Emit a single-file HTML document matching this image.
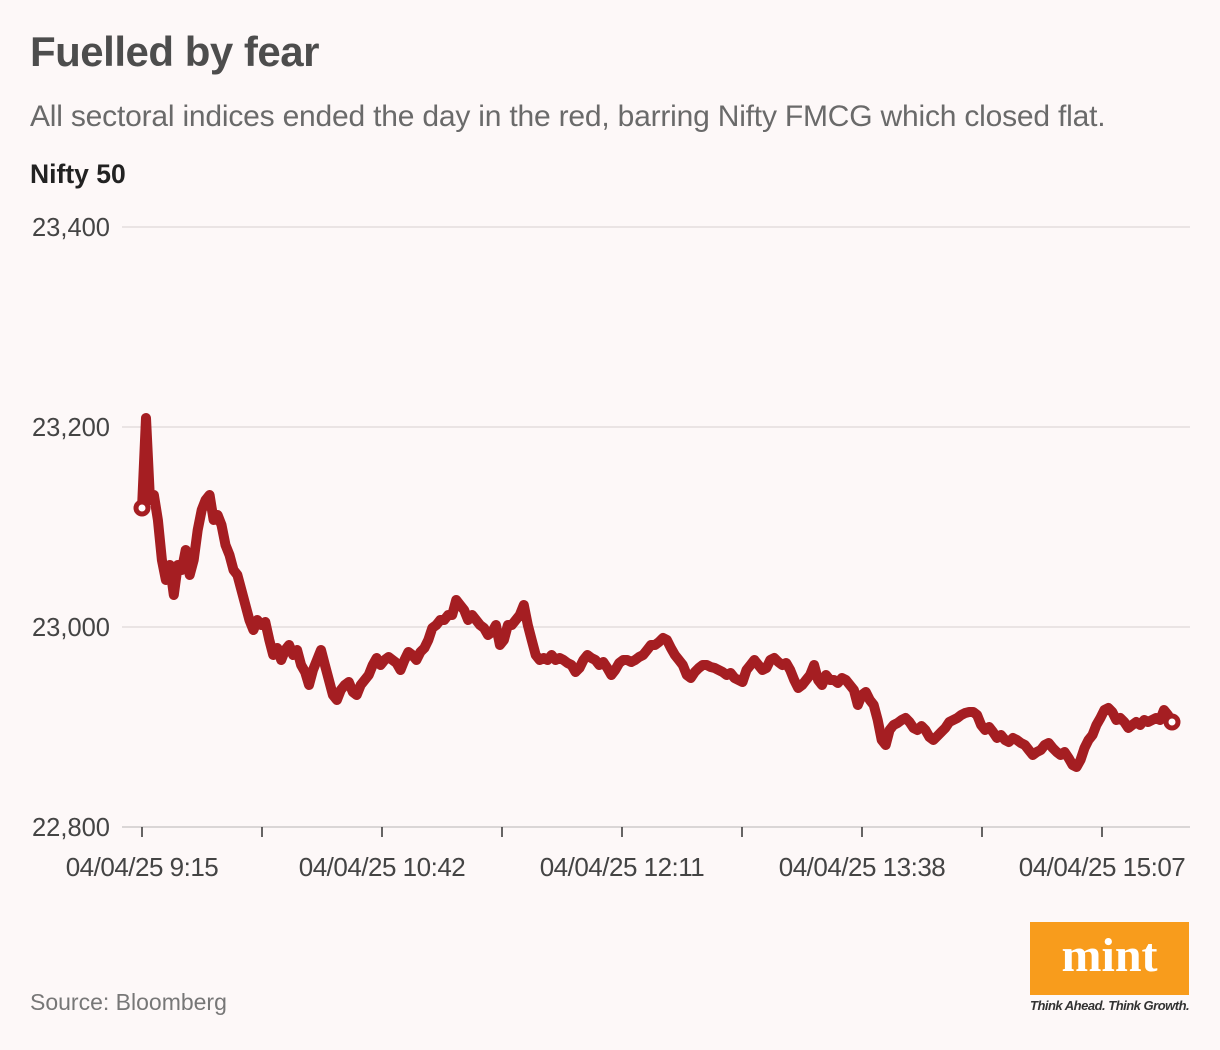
<!DOCTYPE html>
<html><head><meta charset="utf-8">
<style>
body{margin:0;background:#fdf8f8;font-family:"Liberation Sans",sans-serif;}
#wrap{position:relative;width:1220px;height:1050px;overflow:hidden;background:#fdf8f8;}
.t{position:absolute;white-space:nowrap;}
</style></head><body>
<div id="wrap">
<div class="t" style="left:30px;top:28px;font-size:42px;font-weight:bold;color:#4d4d4d;letter-spacing:-0.5px;">Fuelled by fear</div>
<div class="t" style="left:30px;top:100px;font-size:30px;color:#6a6a6a;letter-spacing:-0.2px;">All sectoral indices ended the day in the red, barring Nifty FMCG which closed flat.</div>
<div class="t" style="left:30px;top:159px;font-size:26.5px;font-weight:bold;color:#222;">Nifty 50</div>
<svg id="chart" width="1220" height="900" style="position:absolute;left:0;top:0;"></svg>
<div class="t" style="left:30px;top:989px;font-size:23px;color:#777;">Source: Bloomberg</div>
<div style="position:absolute;left:1030px;top:922px;width:159px;height:73px;background:#f89c1c;color:#fff;font-family:'Liberation Serif',serif;font-weight:bold;font-size:48px;text-align:center;line-height:68px;">mint</div>
<div class="t" style="left:1030px;top:998px;font-size:13px;font-style:italic;font-weight:bold;color:#333;letter-spacing:-0.5px;">Think Ahead. Think Growth.</div>
</div>
<script>
const yTicks=[22800,23000,23200,23400];
const yTickLabels=["22,800","23,000","23,200","23,400"];
const xTickLabels=["04/04/25 9:15","04/04/25 10:42","04/04/25 12:11","04/04/25 13:38","04/04/25 15:07"];
const niftyValues=[23119,23209,23127,23132,23107,23067,23047,23062,23032,23062,23057,23077,23052,23067,23097,23117,23127,23132,23107,23112,23102,23082,23072,23057,23052,23037,23022,23007,22997,23007,23002,23005,22987,22972,22979,22967,22977,22982,22972,22977,22962,22955,22942,22957,22967,22977,22962,22947,22932,22927,22937,22942,22945,22935,22932,22942,22947,22952,22962,22969,22962,22967,22970,22967,22964,22957,22967,22975,22972,22967,22975,22979,22987,22999,23002,23007,23007,23012,23012,23027,23022,23017,23007,23012,23007,23002,22999,22992,22995,23002,22982,22987,23002,23002,23007,23012,23022,23002,22987,22972,22967,22969,22967,22972,22967,22969,22967,22964,22962,22955,22959,22967,22972,22969,22967,22962,22965,22959,22952,22957,22964,22967,22967,22965,22967,22970,22972,22977,22982,22982,22985,22989,22987,22979,22972,22967,22962,22952,22949,22955,22959,22962,22962,22960,22959,22957,22955,22952,22954,22949,22947,22945,22957,22962,22967,22962,22957,22959,22967,22969,22965,22962,22964,22957,22947,22939,22942,22947,22952,22962,22947,22942,22952,22947,22947,22944,22949,22947,22942,22937,22922,22932,22935,22927,22922,22907,22887,22882,22897,22902,22904,22907,22909,22905,22899,22897,22901,22897,22890,22887,22891,22895,22899,22905,22907,22909,22912,22914,22915,22915,22912,22902,22897,22900,22895,22889,22892,22887,22885,22889,22887,22884,22882,22877,22872,22875,22877,22882,22884,22879,22875,22872,22875,22869,22862,22860,22867,22879,22887,22892,22902,22909,22917,22919,22915,22907,22909,22905,22899,22902,22905,22902,22907,22905,22907,22909,22907,22917,22912,22905];
const NS="http://www.w3.org/2000/svg";
const svg=document.getElementById('chart');
const x0=142,x1=1172,yMin=22800,yMax=23400,py0=827,py1=227;
const yScale=v=>py0+(v-yMin)*(py1-py0)/(yMax-yMin);
const xScale=i=>x0+i*(x1-x0)/(niftyValues.length-1);
function mk(tag,attrs){const e=document.createElementNS(NS,tag);for(const k in attrs)e.setAttribute(k,attrs[k]);svg.appendChild(e);return e;}
yTicks.forEach((v,i)=>{
  const y=yScale(v);
  if(i>0){const g=mk('line',{x1:122,x2:1190,y1:y,y2:y,stroke:'#e3dede','stroke-width':1.5});
  
  }
  const t=mk('text',{x:110,y:y+9,'text-anchor':'end','font-size':25.5,fill:'#444','font-family':'Liberation Sans, sans-serif'});
  t.textContent=yTickLabels[i];
  
  
});
const ax=mk('line',{x1:122,x2:1190,y1:827,y2:827,stroke:'#cfcaca','stroke-width':1.5});


for(let k=0;k<9;k++){
  const x=142+k*120;
  const tk=mk('line',{x1:x,x2:x,y1:827,y2:837,stroke:'#333','stroke-width':1.5});
  
  
  if(k%2===0){
    const t=mk('text',{x:x,y:876,'text-anchor':'middle','font-size':26,fill:'#444','font-family':'Liberation Sans, sans-serif','letter-spacing':'-0.5'});
    t.textContent=xTickLabels[k/2];
    
    
  }
}
const d=niftyValues.map((v,i)=>(i?'L':'M')+xScale(i).toFixed(1)+' '+yScale(v).toFixed(1)).join(' ');
const p=mk('path',{d:d,fill:'none',stroke:'#a51e22','stroke-width':10,'stroke-linejoin':'round','stroke-linecap':'round'});


[0,niftyValues.length-1].forEach(i=>{
  const c=mk('circle',{cx:xScale(i),cy:yScale(niftyValues[i]),r:6,fill:'#fff',stroke:'#a51e22','stroke-width':5});
  
  
});
</script>
</body></html>
